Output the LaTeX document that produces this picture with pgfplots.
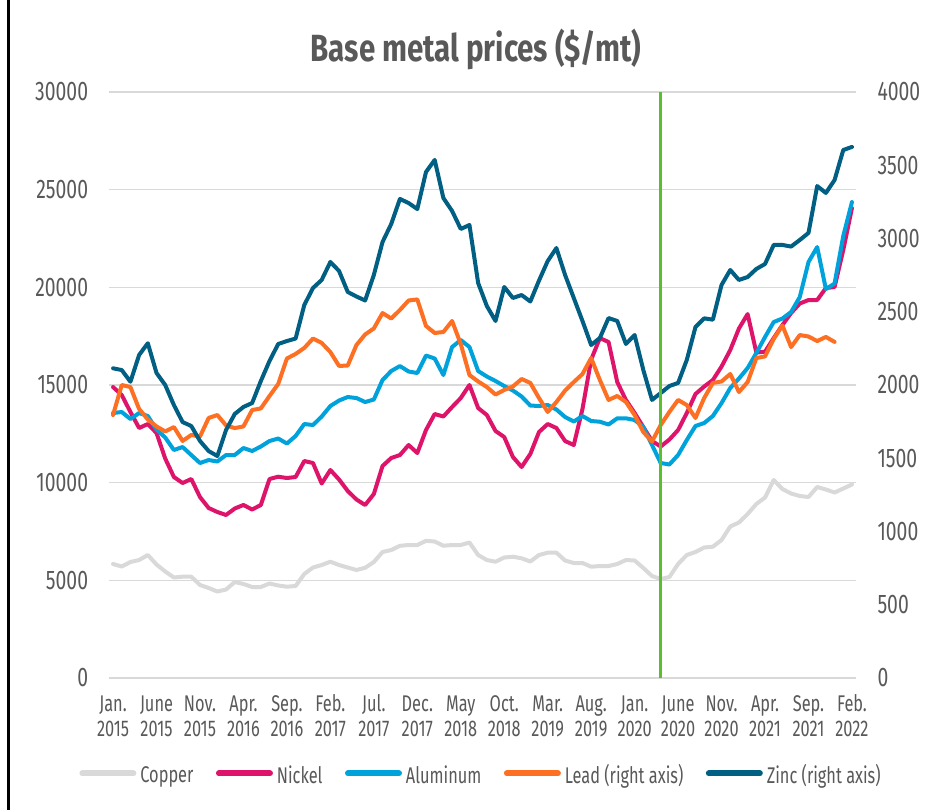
\documentclass[border=0pt]{standalone}
\usepackage{pgfplots}
\pgfplotsset{compat=1.18}
\usepackage{pgfplotstable}
\usepackage{fontspec}
\setmainfont{Fira Sans}[FakeStretch=0.72]
\newfontfamily\titlefont{Fira Sans}[FakeStretch=0.78]
\definecolor{txt}{HTML}{595959}
\definecolor{gridc}{HTML}{D9D9D9}
\definecolor{cuc}{HTML}{D9D9D9}
\definecolor{nic}{HTML}{DE146B}
\definecolor{alc}{HTML}{00A2DB}
\definecolor{pbc}{HTML}{FD6F22}
\definecolor{znc}{HTML}{005F82}
\definecolor{grn}{HTML}{5BBE2E}
\newcommand\ytfont{\fontsize{27}{29}\selectfont}
\newcommand\xtfont{\fontsize{22.8}{24.5}\selectfont}
\newcommand\xl[2]{\rule{0pt}{17bp}#1\\#2}

\pgfplotstableread{
i cu ni al pb zn
0 5836 14896 13565 1795 2114
1 5708 14487 13617 2000 2102
2 5938 13617 13258 1986 2022
3 6040 12798 13565 1836 2205
4 6296 13002 13412 1765 2285
5 5810 12542 12721 1717 2082
6 5452 11236 12311 1683 2000
7 5145 10289 11671 1713 1863
8 5186 9982 11825 1618 1747
9 5186 10187 11415 1659 1720
10 4761 9265 11006 1648 1618
11 4607 8702 11159 1775 1549
12 4428 8498 11083 1795 1515
13 4530 8344 11415 1724 1693
14 4914 8677 11415 1706 1802
15 4812 8856 11774 1717 1850
16 4658 8626 11620 1829 1877
17 4658 8856 11851 1840 2027
18 4837 10187 12132 1925 2164
19 4735 10305 12260 2007 2280
20 4674 10238 12004 2181 2300
21 4710 10289 12388 2212 2317
22 5324 11108 13002 2253 2546
23 5656 11006 12951 2317 2662
24 5784 9957 13386 2287 2717
25 5953 10648 13924 2225 2840
26 5784 10161 14205 2130 2778
27 5656 9573 14384 2133 2635
28 5529 9138 14333 2273 2604
29 5641 8856 14128 2345 2577
30 5938 9419 14256 2386 2751
31 6450 10852 15255 2491 2976
32 6552 11262 15715 2454 3099
33 6767 11415 15971 2512 3270
34 6808 11927 15690 2577 3242
35 6808 11518 15613 2584 3201
36 7023 12695 16509 2403 3454
37 6987 13514 16355 2355 3536
38 6772 13386 15510 2362 3276
39 6808 13872 16944 2437 3188
40 6808 14333 17302 2280 3065
41 6936 14999 16944 2068 3092
42 6296 13821 15715 2024 2696
43 6040 13463 15434 1986 2539
44 5953 12644 15203 1935 2437
45 6168 12337 14947 1966 2669
46 6209 11313 14717 1990 2594
47 6127 10801 14410 2041 2614
48 5964 11467 13949 2014 2570
49 6296 12593 13924 1911 2713
50 6414 13002 13975 1816 2846
51 6414 12798 13745 1884 2935
52 6015 12132 13361 1962 2751
53 5887 11927 13130 2020 2594
54 5887 13770 13412 2075 2437
55 5697 16300 13156 2184 2273
56 5733 17400 13120 2034 2321
57 5733 17200 12977 1898 2457
58 5836 15152 13294 1925 2437
59 6040 14231 13294 1884 2280
60 6015 13565 13207 1795 2341
61 5631 12849 12849 1679 2102
62 5221 12132 11927 1614 1898
63 5068 11851 11006 1727 1945
64 5170 12209 10929 1816 1993
65 5836 12695 11415 1898 2014
66 6296 13565 12183 1863 2171
67 6450 14538 12900 1775 2396
68 6680 14922 13053 1911 2455
69 6721 15255 13412 2014 2446
70 7064 15946 14077 2024 2683
71 7755 16790 14845 2075 2785
72 7960 17891 15331 1952 2717
73 8395 18633 15869 2020 2737
74 8907 16663 16637 2184 2792
75 9240 16704 17456 2195 2826
76 10136 17405 18224 2314 2956
77 9675 18070 18403 2406 2956
78 9445 18684 18736 2259 2945
79 9317 19171 19503 2341 2990
80 9266 19350 21295 2331 3038
81 9777 19350 22063 2300 3358
82 9649 19964 19913 2328 3311
83 9496 20015 20195 2294 3399
84 9700 21909 22626 nan 3604
85 9905 24059 24366 nan 3625
}\datatable

\pgfplotsset{
  ser/.style={line width=4bp, line join=round, line cap=round},
  common/.style={
    at={(108.7bp,132bp)}, anchor=south west, scale only axis,
    width=747.6bp, height=586bp,
    xmin=-0.5, xmax=85.5, clip=false,
    axis line style={draw=none}, major tick length=0pt,
    scaled y ticks=false,
    /pgf/number format/1000 sep={},
    /pgf/number format/assume math mode=true,
  },
}

\begin{document}
\begin{tikzpicture}
\useasboundingbox (0bp,0bp) rectangle (933bp,810bp);
\fill[white] (0bp,0bp) rectangle (933bp,810bp);
\draw[black, line width=2.5bp] (8.7bp,0bp) -- (8.7bp,810bp);
\node[anchor=base, text=txt, font=\titlefont\fontsize{38}{40}\selectfont\bfseries] at (476bp,748bp) {Base metal prices (\$/mt)};

\begin{axis}[common,
  ymin=0, ymax=30000, ytick={0,5000,...,30000},
  ymajorgrids, major grid style={draw=gridc, line width=1.6bp},
  xtick={0,5,...,85},
  xticklabels={{\xl{Jan.}{2015}},{\xl{June}{2015}},{\xl{Nov.}{2015}},{\xl{Apr.}{2016}},{\xl{Sep.}{2016}},{\xl{Feb.}{2017}},{\xl{Jul.}{2017}},{\xl{Dec.}{2017}},{\xl{May}{2018}},{\xl{Oct.}{2018}},{\xl{Mar.}{2019}},{\xl{Aug.}{2019}},{\xl{Jan.}{2020}},{\xl{June}{2020}},{\xl{Nov.}{2020}},{\xl{Apr.}{2021}},{\xl{Sep.}{2021}},{\xl{Feb.}{2022}}},
  xticklabel style={align=center, font=\xtfont, text=txt, inner sep=0pt, anchor=north},
  xticklabel shift=16.5bp,
  yticklabel style={font=\ytfont, text=txt, inner sep=0pt, anchor=east},
  yticklabel shift=20.4bp,
]
\addplot[ser, color=cuc] table[x=i, y=cu] {\datatable};
\addplot[ser, color=nic] table[x=i, y=ni] {\datatable};
\addplot[ser, color=alc] table[x=i, y=al] {\datatable};
\end{axis}

\begin{axis}[common,
  ymin=0, ymax=4000, ytick={0,500,...,4000},
  xtick=\empty,
  yticklabel pos=right,
  yticklabel style={font=\ytfont, text=txt, inner sep=0pt, anchor=west},
  yticklabel shift=21bp,
  legend columns=5,
  legend style={at={(0.4967,-0.1655)}, anchor=center, draw=none, fill=none,
    font=\xtfont, text=txt, inner sep=0pt,
    nodes={inner sep=0pt},
    /tikz/every odd column/.append style={column sep=4bp},
    /tikz/every even column/.append style={column sep=22.5bp}},
  legend image code/.code={\draw[#1, line width=6bp, line cap=round] (0bp,1.5bp) -- (51bp,1.5bp);},
]
\addlegendimage{ser, color=cuc}
\addlegendimage{ser, color=nic}
\addlegendimage{ser, color=alc}
\addplot[ser, color=pbc] table[x=i, y=pb] {\datatable};
\addplot[ser, color=znc] table[x=i, y=zn] {\datatable};
\addplot[color=grn, line width=3bp, forget plot] coordinates {(63,0) (63,4000)};
\legend{Copper, Nickel, Aluminum, Lead (right axis), Zinc (right axis)}
\end{axis}
\end{tikzpicture}
\end{document}
